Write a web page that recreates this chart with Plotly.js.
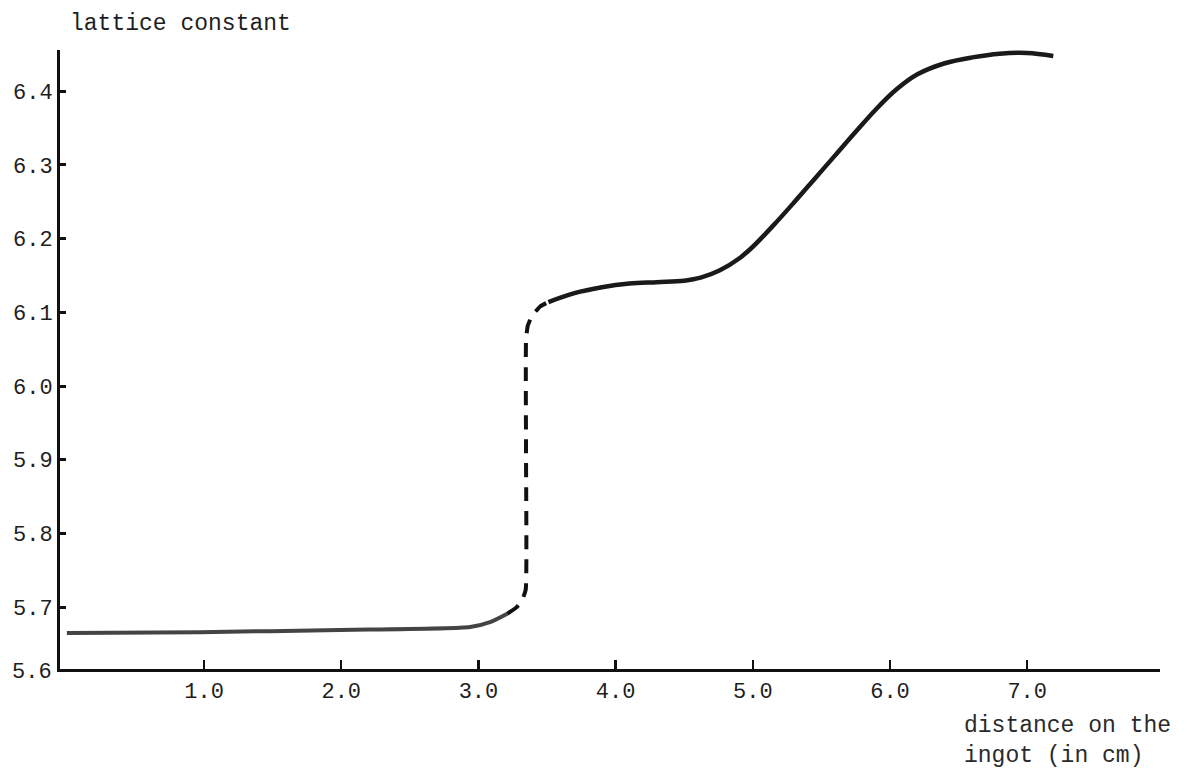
<!DOCTYPE html>
<html>
<head>
<meta charset="utf-8">
<script src="https://cdn.plot.ly/plotly-3.0.1.min.js"></script>
<style>html,body{margin:0;padding:0;background:#fff;}#chart{width:1187px;height:775px;}</style>
</head>
<body>
<div id="chart"></div>
<script>
// Lattice constant along the ingot
const lowerX = [0.00, 0.97, 1.99, 2.94, 3.09, 3.21];
const lowerY = [5.665, 5.666, 5.669, 5.673, 5.680, 5.691];

const jumpX = [3.21, 3.28, 3.32, 3.345, 3.347, 3.347, 3.36, 3.39, 3.45, 3.51];
const jumpY = [5.691, 5.700, 5.710, 5.724, 5.90, 6.063, 6.082, 6.095, 6.108, 6.114];

const upperX = [3.51, 3.70, 3.90, 4.10, 4.30, 4.50, 4.62, 4.76, 4.90, 5.00, 5.15, 5.30, 5.45, 5.60, 5.75, 5.90, 6.05, 6.20, 6.40, 6.60, 6.80, 7.00, 7.19];
const upperY = [6.114, 6.126, 6.134, 6.139, 6.141, 6.143, 6.147, 6.157, 6.173, 6.189, 6.218, 6.249, 6.281, 6.313, 6.345, 6.376, 6.403, 6.423, 6.438, 6.446, 6.451, 6.452, 6.448];

const xTickVals = [1, 2, 3, 4, 5, 6, 7];
const xTickText = ['1.0', '2.0', '3.0', '4.0', '5.0', '6.0', '7.0'];
const yTickVals = [5.7, 5.8, 5.9, 6.0, 6.1, 6.2, 6.3, 6.4];
const yTickText = ['5.7', '5.8', '5.9', '6.0', '6.1', '6.2', '6.3', '6.4'];
const yAxisFloorLabel = '5.6';

const yTitle = 'lattice constant';
const xTitle = 'distance on the<br>ingot (in cm)';

const FONT = 'Liberation Mono, Courier New, monospace';
const INK = '#1e1e1e';

const traces = [
  {x: lowerX, y: lowerY, mode: 'lines', line: {color: '#444', width: 4, shape: 'spline', smoothing: 0.6}, hoverinfo: 'skip'},
  {x: jumpX, y: jumpY, mode: 'lines', line: {color: '#111', width: 4, dash: '14px,10px', shape: 'spline', smoothing: 0.4}, hoverinfo: 'skip'},
  {x: upperX, y: upperY, mode: 'lines', line: {color: '#1a1a1a', width: 4.5, shape: 'spline', smoothing: 1}, hoverinfo: 'skip'}
];

const layout = {
  width: 1187, height: 775,
  margin: {l: 60, r: 27, t: 50, b: 106},
  paper_bgcolor: '#fff', plot_bgcolor: '#fff',
  showlegend: false,
  font: {family: FONT, size: 22, color: INK},
  title: {text: yTitle, xref: 'container', yref: 'container', x: 70 / 1187, xanchor: 'left', y: 1 - 22 / 775, yanchor: 'middle', font: {family: FONT, size: 23, color: INK}},
  xaxis: {
    range: [-0.05, 7.968], showgrid: false, zeroline: false,
    showline: true, linecolor: '#111', linewidth: 3,
    ticks: 'inside', ticklen: 9, tickwidth: 2.5, tickcolor: '#111',
    tickvals: xTickVals, ticktext: xTickText,
    tickfont: {family: FONT, size: 22, color: INK}
  },
  yaxis: {
    range: [5.616, 6.456], showgrid: false, zeroline: false,
    showline: true, linecolor: '#111', linewidth: 3,
    ticks: 'inside', ticklen: 6, tickwidth: 3, tickcolor: '#111',
    tickvals: yTickVals, ticktext: yTickText,
    tickfont: {family: FONT, size: 22, color: INK}
  },
  annotations: [
    {xref: 'paper', yref: 'paper', x: 0, y: 0, xanchor: 'right', yanchor: 'middle', xshift: -6, yshift: -3, showarrow: false, text: yAxisFloorLabel, font: {family: FONT, size: 22, color: INK}},
    {xref: 'paper', yref: 'paper', x: (962 - 60) / 1100, y: 0, xanchor: 'left', yanchor: 'top', yshift: -42, align: 'left', showarrow: false, text: xTitle, font: {family: FONT, size: 23, color: '#2a2a2a'}}
  ]
};

Plotly.newPlot('chart', traces, layout, {staticPlot: true, displayModeBar: false});
</script>
</body>
</html>
